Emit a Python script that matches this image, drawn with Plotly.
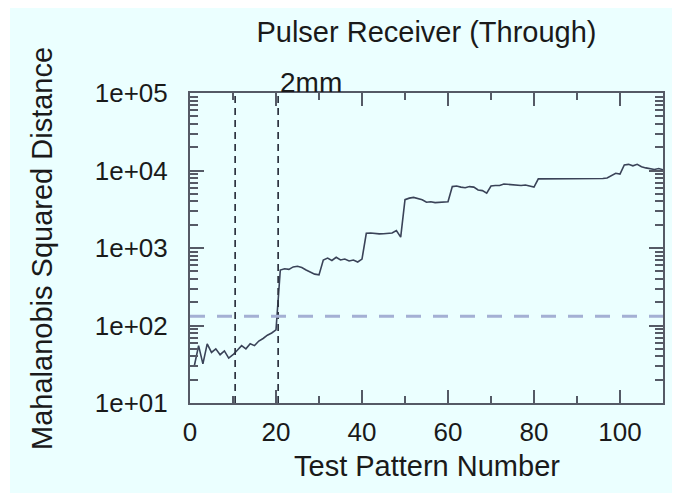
import plotly.graph_objects as go

# Test pattern numbers and Mahalanobis squared distance
patterns = list(range(1, 111))
distance = [
    30, 55, 32, 58, 45, 50, 42, 47, 38, 42,           # 1-10
    48, 55, 50, 58, 55, 63, 68, 75, 80, 88,           # 11-20
    520, 540, 530, 570, 580, 560, 520, 490, 460, 450,  # 21-30
    700, 740, 690, 760, 700, 720, 680, 700, 660, 720,  # 31-40
    1550, 1560, 1530, 1520, 1530, 1540, 1560, 1680, 1380, 4200,  # 41-50
    4400, 4500, 4300, 4200, 3900, 3950, 3850, 3900, 3900, 3950,  # 51-60
    6200, 6300, 6100, 6000, 6200, 6100, 5600, 5500, 5100, 6300,  # 61-70
    6400, 6400, 6700, 6600, 6500, 6400, 6400, 6500, 6300, 6100,  # 71-80
    7800, 7800, 7900, 7800, 7800, 7900, 7800, 7900, 7800, 7800,  # 81-90
    7900, 7800, 7900, 7800, 7800, 7900, 8000, 8500, 9200, 9000,  # 91-100
    11800, 12000, 11500, 12000, 11200, 10800, 10500, 10300, 10600, 10200,  # 101-110
]

boundaries = [10.5, 20.5]
threshold = 132

y_tickvals = [1e1, 1e2, 1e3, 1e4, 1e5]
y_ticktext = ["1e+01", "1e+02", "1e+03", "1e+04", "1e+05"]
x_tickvals = [0, 20, 40, 60, 80, 100]

BG = "#ebffff"
AXIS = "#555a66"
TEXT = "#1a1a1a"
FONT = "Liberation Sans, Arial, sans-serif"

fig = go.Figure()

fig.add_trace(go.Scatter(
    x=patterns, y=distance, mode="lines",
    line=dict(color="#3a4358", width=1.6),
    showlegend=False,
))

# limites des groupes (pointillés verticaux)
for b in boundaries:
    fig.add_shape(type="line", xref="x", yref="paper", x0=b, x1=b, y0=0, y1=1,
                  line=dict(color="#2e3340", width=1.7, dash="7px,5px"))

# seuil horizontal
fig.add_shape(type="line", xref="paper", yref="y", x0=0, x1=1,
              y0=threshold, y1=threshold,
              line=dict(color="#a4b0d4", width=3, dash="15px,12px"))

# thin white strip at the left edge
fig.add_shape(type="rect", xref="paper", yref="paper",
              x0=-0.39, x1=-0.3805, y0=-0.4, y1=1.35,
              fillcolor="white", line=dict(width=0))

fig.add_annotation(text="2mm", xref="x", yref="paper", x=20.5, y=1.035,
                   xanchor="left", yanchor="middle", showarrow=False,
                   font=dict(size=28, color=TEXT))
fig.add_annotation(text="Mahalanobis Squared Distance", xref="paper", yref="paper",
                   x=-0.313, y=0.5, textangle=-90, showarrow=False,
                   xanchor="center", yanchor="middle",
                   font=dict(size=29, color=TEXT))
fig.add_annotation(text="Test Pattern Number", xref="paper", yref="paper",
                   x=0.5, y=-0.203, showarrow=False,
                   xanchor="center", yanchor="middle",
                   font=dict(size=29, color=TEXT))

fig.update_layout(
    width=680, height=493,
    margin=dict(l=182, r=25, t=85, b=98),
    paper_bgcolor=BG, plot_bgcolor=BG,
    font=dict(family=FONT, size=26, color=TEXT),
    title=dict(text="Pulser Receiver (Through)", x=0.5, xref="paper",
               y=1 - 24 / 493, yref="container", yanchor="middle",
               font=dict(size=29, color=TEXT)),
)

fig.update_xaxes(
    range=[0, 110], tickvals=x_tickvals, showgrid=False, zeroline=False,
    showline=True, linecolor=AXIS, linewidth=2, mirror="ticks",
    ticks="inside", ticklen=13, tickwidth=1.5, tickcolor=AXIS,
    minor=dict(ticks="inside", dtick=10, ticklen=7, tickwidth=1.5, tickcolor=AXIS),
    ticklabelstandoff=5,
)
fig.update_yaxes(
    type="log", range=[1, 5], tickvals=y_tickvals, ticktext=y_ticktext,
    showgrid=False, zeroline=False,
    showline=True, linecolor=AXIS, linewidth=2, mirror="ticks",
    ticks="inside", ticklen=14, tickwidth=1.5, tickcolor=AXIS,
    minor=dict(ticks="inside", dtick="D1", ticklen=8, tickwidth=1.5, tickcolor=AXIS),
    ticklabelstandoff=15,
)

fig.write_html("out.html")
